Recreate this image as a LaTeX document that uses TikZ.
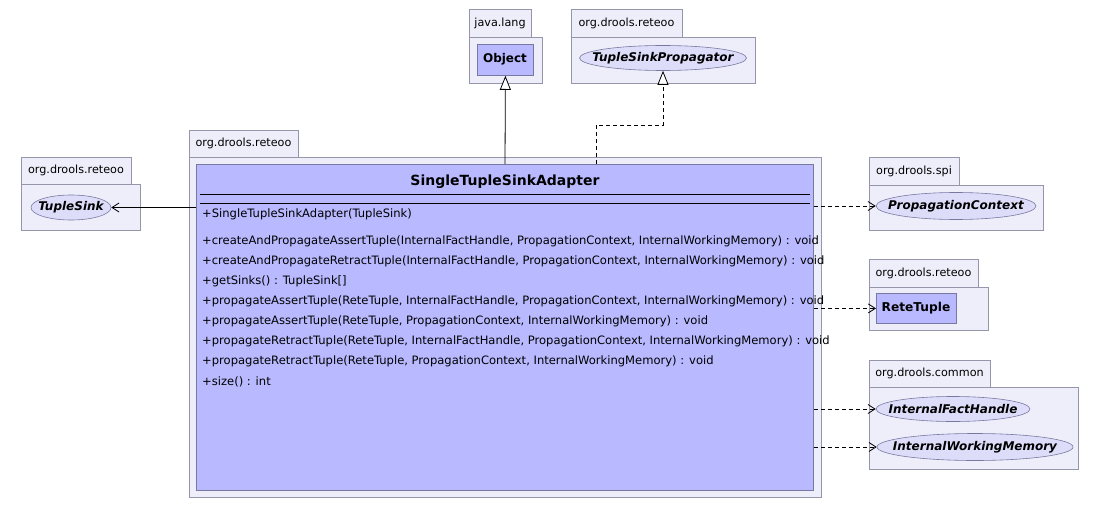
\documentclass[tikz,border=0pt]{standalone}
\usepackage{fontspec}
\setmainfont{DejaVu Sans}
\usetikzlibrary{arrows.meta,shapes.geometric,calc}
\definecolor{pkgfill}{RGB}{238,238,250}
\definecolor{pkgdraw}{RGB}{150,150,170}
\definecolor{clsfill}{RGB}{185,185,255}
\definecolor{clsdraw}{RGB}{120,120,160}
\definecolor{ifill}{RGB}{221,221,250}
\tikzset{
  pkg/.style={draw=pkgdraw,fill=pkgfill,line width=0.8pt,anchor=north west,inner sep=0pt},
  pkgtab/.style={pkg},
  pkglabel/.style={inner sep=0pt,font=\fontsize{11.2}{13}\selectfont},
  cls/.style={draw=clsdraw,fill=clsfill,line width=0.8pt,anchor=north west,inner sep=0pt},
  iface/.style={ellipse,draw=clsdraw,fill=ifill,line width=0.6pt,inner sep=0pt},
  ifacelabel/.style={inner sep=0pt,font=\fontsize{12}{14}\selectfont\bfseries\itshape},
  meth/.style={anchor=base west,inner sep=0pt,font=\fontsize{11.55}{13}\selectfont},
  dep/.style={dashed,dash pattern=on 4pt off 3pt,line width=0.8pt,-{Straight Barb[length=7pt,width=9pt]}},
  assoc/.style={line width=0.8pt,-{Straight Barb[length=7pt,width=9pt]}},
  gen/.style={line width=0.8pt,-{Triangle[open,length=14pt,width=11pt,fill=white]}},
  real/.style={dashed,dash pattern=on 4pt off 3pt,line width=0.8pt,-{Triangle[open,length=14pt,width=11pt,fill=white]}}
}
\begin{document}
\begin{tikzpicture}[x=1pt,y=-1pt]
\useasboundingbox[fill=white] (0,0) rectangle (1102,508);
% java.lang
\node[pkgtab,minimum width=62pt,minimum height=28pt] (jlt) at (469,9) {};
\node[pkglabel] at (500,23) {java.lang};
\node[pkg,minimum width=73pt,minimum height=46pt] (jlb) at (469,37) {};
\node[cls,minimum width=56pt,minimum height=31pt] (objbox) at (477,44) {};
\node[font=\fontsize{12}{14}\selectfont\bfseries,inner sep=0pt] (obj) at (505,59.5) {Object};
% org.drools.reteoo top
\node[pkgtab,minimum width=111pt,minimum height=28pt] (rt1t) at (571,9) {};
\node[pkglabel] at (626.5,23) {org.drools.reteoo};
\node[pkg,minimum width=184pt,minimum height=46pt] (rt1b) at (571,37) {};
\node[iface,minimum width=167pt,minimum height=25pt] (tsp) at (663,58) {};
\node[ifacelabel] at (tsp) {TupleSinkPropagator};
% main package
\node[pkgtab,minimum width=109pt,minimum height=27pt] (mpt) at (189,130) {};
\node[pkglabel] at (243.5,143.5) {org.drools.reteoo};
\node[pkg,minimum width=632pt,minimum height=340pt] (mpb) at (189,157) {};
\node[cls,minimum width=617pt,minimum height=326pt] (cls) at (196,164) {};
\node[font=\fontsize{14}{16}\selectfont\bfseries,inner sep=0pt] (title) at (505,182) {SingleTupleSinkAdapter};
\draw[line width=0.8pt] (200,194) -- (810,194);
\draw[line width=0.8pt] (200,203) -- (810,203);
\node[meth] (m0) at (202,217.5) {+SingleTupleSinkAdapter(TupleSink)};
\node[meth] (m1) at (202,244.5) {+createAndPropagateAssertTuple(InternalFactHandle, PropagationContext, InternalWorkingMemory) : void};
\node[meth] (m2) at (202,264) {+createAndPropagateRetractTuple(InternalFactHandle, PropagationContext, InternalWorkingMemory) : void};
\node[meth] (m3) at (202,284) {+getSinks() : TupleSink[]};
\node[meth] (m4) at (202,304) {+propagateAssertTuple(ReteTuple, InternalFactHandle, PropagationContext, InternalWorkingMemory) : void};
\node[meth] (m5) at (202,324) {+propagateAssertTuple(ReteTuple, PropagationContext, InternalWorkingMemory) : void};
\node[meth] (m6) at (202,344) {+propagateRetractTuple(ReteTuple, InternalFactHandle, PropagationContext, InternalWorkingMemory) : void};
\node[meth] (m7) at (202,364) {+propagateRetractTuple(ReteTuple, PropagationContext, InternalWorkingMemory) : void};
\node[meth] (m8) at (202,385) {+size() : int};
% left package
\node[pkgtab,minimum width=110pt,minimum height=27pt] (lpt) at (21,157) {};
\node[pkglabel] at (76,170.5) {org.drools.reteoo};
\node[pkg,minimum width=119pt,minimum height=46pt] (lpb) at (21,184) {};
\node[iface,minimum width=80pt,minimum height=25pt] (ts) at (71,207.5) {};
\node[ifacelabel] at (ts) {TupleSink};
% org.drools.spi
\node[pkgtab,minimum width=90pt,minimum height=28pt] (spt) at (869,157) {};
\node[pkglabel] at (914,171) {org.drools.spi};
\node[pkg,minimum width=174pt,minimum height=45pt] (spb) at (869,185) {};
\node[iface,minimum width=160pt,minimum height=27pt] (pc) at (956,206) {};
\node[ifacelabel] at (pc) {PropagationContext};
% org.drools.reteoo right
\node[pkgtab,minimum width=109pt,minimum height=28pt] (rrt) at (869,259) {};
\node[pkglabel] at (923.5,273) {org.drools.reteoo};
\node[pkg,minimum width=119pt,minimum height=43pt] (rrb) at (869,287) {};
\node[cls,minimum width=80pt,minimum height=30pt] (rtbox) at (876,293) {};
\node[font=\fontsize{12.2}{14}\selectfont\bfseries,inner sep=0pt] (rt) at (916,308) {ReteTuple};
% org.drools.common
\node[pkgtab,minimum width=121pt,minimum height=27pt] (cmt) at (869,360) {};
\node[pkglabel] at (929.5,373.5) {org.drools.common};
\node[pkg,minimum width=209pt,minimum height=82pt] (cmb) at (869,387) {};
\node[iface,minimum width=154pt,minimum height=25pt] (ifh) at (953,409) {};
\node[ifacelabel] at (ifh) {InternalFactHandle};
\node[iface,minimum width=196pt,minimum height=27pt] (iwm) at (975,447) {};
\node[ifacelabel] at (iwm) {InternalWorkingMemory};
% connectors
\draw[gen] (cls.north -| obj.south) -- (objbox.south);
\coordinate (r1) at (596,125);
\draw[real] (r1 |- cls.north) -- (r1) -| (tsp.south);
\draw[assoc] (cls.west |- ts.east) -- (ts.east);
\draw[dep] (cls.east |- pc.west) -- (pc.west);
\draw[dep] (cls.east |- rtbox.west) -- (rtbox.west);
\draw[dep] (cls.east |- ifh.west) -- (ifh.west);
\draw[dep] (cls.east |- iwm.west) -- (iwm.west);
\end{tikzpicture}
\end{document}
